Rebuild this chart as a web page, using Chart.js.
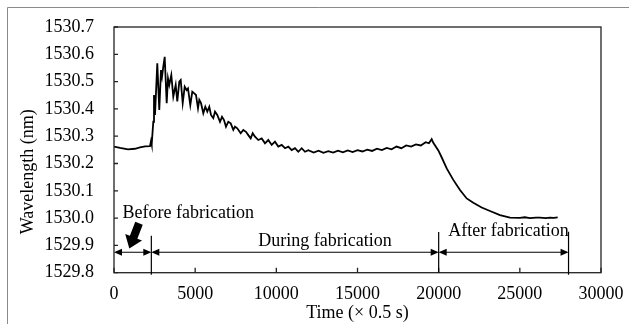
<!DOCTYPE html>
<html>
<head>
<meta charset="utf-8">
<script src="https://cdn.jsdelivr.net/npm/chart.js@4.4.1/dist/chart.umd.min.js"></script>
<style>
  html, body { margin: 0; padding: 0; background: #fff; }
  canvas { display: block; }
</style>
</head>
<body>
<canvas id="chart" width="639" height="324"></canvas>
<script>
// time axis (x 0.5 s) and measured wavelength (nm)
const timeX = [
  0, 370, 860, 1290, 1600, 1910, 2220, 2280, 2322, 2421, 2464, 2526, 2667, 2790,
  2895, 2957, 3037, 3123, 3246, 3326, 3406, 3530, 3653, 3801, 3899, 4022, 4109,
  4232, 4355, 4478, 4558, 4700, 4823, 4946, 5051, 5174, 5254, 5359, 5501, 5624,
  5747, 5870, 5975, 6117, 6222, 6363, 6530, 6653, 6776, 6899, 7041, 7189, 7349,
  7454, 7595, 7805, 7965, 8131, 8273, 8421, 8544, 8686, 8889, 9098, 9302, 9505,
  9714, 9917, 10121, 10330, 10534, 10737, 10946, 11150, 11353, 11562, 11766, 11969,
  12300, 12600, 12900, 13200, 13500, 13800, 14100, 14400, 14700, 15000, 15300,
  15600, 15900, 16200, 16500, 16800, 17100, 17400, 17700, 18000, 18300, 18600,
  18900, 19200, 19400, 19570, 19670, 19980, 20190, 20495, 20901, 21314, 21726,
  22133, 22650, 23162, 23778, 24394, 25010, 25300, 25626, 26000, 26242, 26600,
  26858, 27100, 27332
];
const wavelength = [
  1530.262, 1530.257, 1530.252, 1530.254, 1530.259, 1530.263, 1530.264, 1530.282,
  1530.270, 1530.353, 1530.451, 1530.378, 1530.567, 1530.396, 1530.542, 1530.518,
  1530.555, 1530.591, 1530.421, 1530.512, 1530.488, 1530.524, 1530.445, 1530.488,
  1530.427, 1530.500, 1530.506, 1530.421, 1530.481, 1530.469, 1530.475, 1530.414,
  1530.463, 1530.457, 1530.451, 1530.402, 1530.433, 1530.421, 1530.384, 1530.408,
  1530.390, 1530.408, 1530.378, 1530.366, 1530.390, 1530.378, 1530.353, 1530.371,
  1530.359, 1530.335, 1530.353, 1530.347, 1530.323, 1530.335, 1530.329, 1530.311,
  1530.323, 1530.316, 1530.304, 1530.292, 1530.311, 1530.298, 1530.286, 1530.292,
  1530.274, 1530.286, 1530.268, 1530.280, 1530.262, 1530.268, 1530.256, 1530.262,
  1530.249, 1530.256, 1530.243, 1530.256, 1530.243, 1530.249,
  1530.240, 1530.247, 1530.239, 1530.245, 1530.240, 1530.247, 1530.241, 1530.248,
  1530.242, 1530.249, 1530.244, 1530.251, 1530.246, 1530.254, 1530.249, 1530.257,
  1530.252, 1530.262, 1530.256, 1530.266, 1530.262, 1530.270, 1530.266, 1530.278,
  1530.274, 1530.289, 1530.276, 1530.248, 1530.222, 1530.182, 1530.140, 1530.103,
  1530.072, 1530.056, 1530.039, 1530.026, 1530.011, 1530.002, 1530.001, 1530.003,
  1530.000, 1530.002, 1530.002, 1530.000, 1530.002, 1530.001, 1530.003
];

const xTickValues = [0, 5000, 10000, 15000, 20000, 25000, 30000];
const yTickValues = [1529.8, 1529.9, 1530.0, 1530.1, 1530.2, 1530.3, 1530.4, 1530.5, 1530.6, 1530.7];

// fabrication phases: boundaries on the time axis and their labels
const phaseBounds = [0, 2300, 20000, 28000];
const phaseNames = ['Before fabrication', 'During fabrication', 'After fabrication'];
const phaseLabelX = [530, 13000, 24300];
const phaseLabelY = [1530.018, 1529.914, 1529.953];
const phaseArrowY = 1529.875;
const phaseLineTop = [1529.935, 1529.949, 1529.950];
const pointerTip = [943, 1529.889];

const FONT = "'Liberation Serif', 'Times New Roman', serif";

function arrowHead(ctx, x, y, dir) {
  ctx.beginPath();
  ctx.moveTo(x, y);
  ctx.lineTo(x - dir * 8, y - 3.5);
  ctx.lineTo(x - dir * 8, y + 3.5);
  ctx.closePath();
  ctx.fill();
}

const overlay = {
  id: 'overlay',
  beforeDraw(chart) {
    const ctx = chart.ctx;
    ctx.save();
    ctx.strokeStyle = '#8a8a8a';
    ctx.lineWidth = 1;
    ctx.beginPath();
    ctx.moveTo(7.5, 324);
    ctx.lineTo(7.5, 7.5);
    ctx.lineTo(629, 7.5);
    ctx.stroke();
    ctx.restore();
  },
  afterDraw(chart) {
    const { ctx, chartArea: a, scales: { x, y } } = chart;
    ctx.save();
    // plot box
    ctx.strokeStyle = '#222';
    ctx.lineWidth = 1.3;
    ctx.strokeRect(a.left, a.top, a.right - a.left, a.bottom - a.top);
    // inward ticks
    ctx.beginPath();
    yTickValues.forEach(v => {
      const py = y.getPixelForValue(v);
      ctx.moveTo(a.left, py);
      ctx.lineTo(a.left + 4, py);
    });
    xTickValues.forEach(v => {
      const px = x.getPixelForValue(v);
      ctx.moveTo(px, a.bottom);
      ctx.lineTo(px, a.bottom - 5);
    });
    ctx.stroke();

    // y title
    ctx.fillStyle = '#000';
    ctx.font = '18px ' + FONT;
    ctx.textAlign = 'center';
    ctx.textBaseline = 'middle';
    ctx.save();
    ctx.translate(28, (a.top + a.bottom) / 2 + 22);
    ctx.rotate(-Math.PI / 2);
    ctx.fillText('Wavelength (nm)', 0, 0);
    ctx.restore();

    // phase arrows
    ctx.strokeStyle = '#000';
    ctx.lineWidth = 1.2;
    const ay = y.getPixelForValue(phaseArrowY);
    for (let i = 0; i < phaseNames.length; i++) {
      const x0 = x.getPixelForValue(phaseBounds[i]);
      const x1 = x.getPixelForValue(phaseBounds[i + 1]);
      ctx.beginPath();
      ctx.moveTo(x0 + 2, ay);
      ctx.lineTo(x1 - 2, ay);
      ctx.stroke();
      arrowHead(ctx, x0, ay, -1);
      arrowHead(ctx, x1, ay, 1);
    }
    // boundary lines
    ctx.beginPath();
    for (let i = 1; i < phaseBounds.length; i++) {
      const px = x.getPixelForValue(phaseBounds[i]);
      ctx.moveTo(px, y.getPixelForValue(phaseLineTop[i - 1]));
      ctx.lineTo(px, a.bottom + (i === 2 ? 0 : 2));
    }
    ctx.stroke();

    // labels
    ctx.textBaseline = 'middle';
    phaseNames.forEach((t, i) => {
      ctx.textAlign = i === 0 ? 'left' : 'center';
      ctx.fillText(t, x.getPixelForValue(phaseLabelX[i]), y.getPixelForValue(phaseLabelY[i]));
    });

    // bold pointer arrow
    const tx = x.getPixelForValue(pointerTip[0]);
    const ty = y.getPixelForValue(pointerTip[1]);
    const ang = Math.atan2(-26, 10);
    const len = 27, headLen = 12, headW = 9, shaftW = 4;
    ctx.save();
    ctx.translate(tx, ty);
    ctx.rotate(ang);
    ctx.beginPath();
    ctx.moveTo(0, 0);
    ctx.lineTo(headLen, -headW);
    ctx.lineTo(headLen, -shaftW);
    ctx.lineTo(len, -shaftW);
    ctx.lineTo(len, shaftW);
    ctx.lineTo(headLen, shaftW);
    ctx.lineTo(headLen, headW);
    ctx.closePath();
    ctx.fill();
    ctx.restore();
    ctx.restore();
  }
};

new Chart(document.getElementById('chart'), {
  type: 'line',
  data: {
    datasets: [{
      data: timeX.map((t, i) => ({ x: t, y: wavelength[i] })),
      borderColor: '#000',
      borderWidth: 1.8,
      pointRadius: 0,
      tension: 0,
      fill: false
    }]
  },
  options: {
    responsive: false,
    animation: false,
    layout: { padding: { left: 0, top: 27, right: 38, bottom: 0 } },
    plugins: { legend: { display: false }, tooltip: { enabled: false } },
    scales: {
      x: {
        type: 'linear',
        min: 0, max: 30000,
        afterBuildTicks: s => { s.ticks = xTickValues.map(v => ({ value: v })); },
        afterFit: s => { s.height = 51.3; s.paddingLeft = 0; s.paddingRight = 0; },
        grid: { display: false, drawTicks: false },
        border: { display: false },
        ticks: {
          color: '#000', padding: 11, maxRotation: 0, font: { family: FONT, size: 18 },
          callback: v => String(v)
        },
        title: {
          display: true, text: 'Time (\u00d7 0.5 s)', color: '#000',
          padding: { top: 0, bottom: 0 }, font: { family: FONT, size: 18 }
        }
      },
      y: {
        min: 1529.8, max: 1530.7,
        afterBuildTicks: s => { s.ticks = yTickValues.map(v => ({ value: v })); },
        afterFit: s => { s.width = 114; s.paddingTop = 0; s.paddingBottom = 0; },
        grid: { display: false, drawTicks: false },
        border: { display: false },
        ticks: {
          color: '#000', padding: 20, font: { family: FONT, size: 18 },
          callback: v => Number(v).toFixed(1)
        }
      }
    }
  },
  plugins: [overlay]
});
</script>
</body>
</html>
